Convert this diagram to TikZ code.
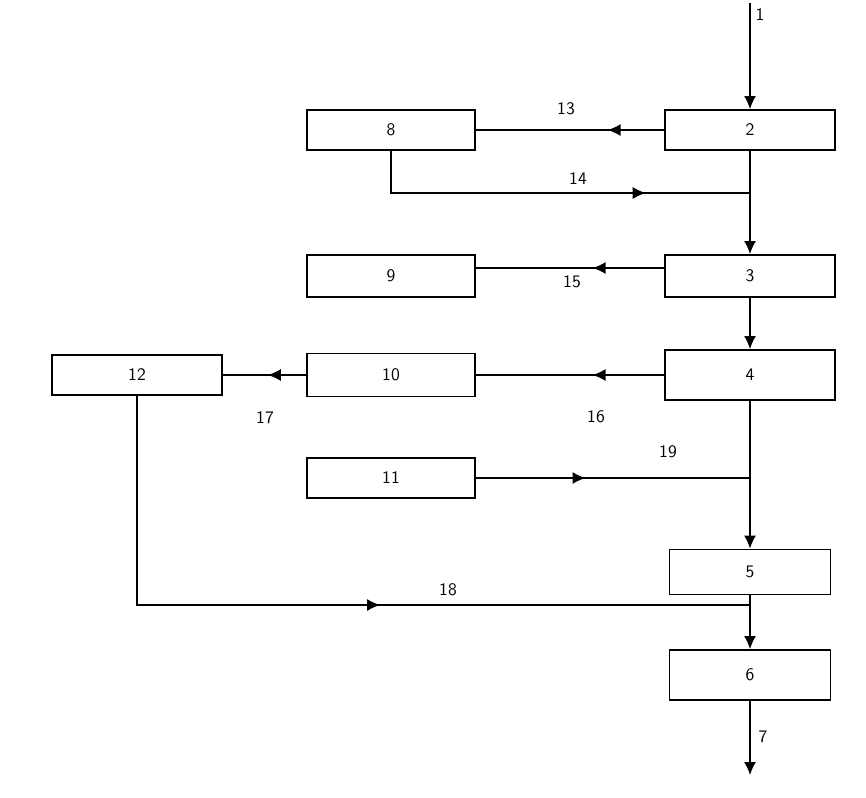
\documentclass[tikz,border=0pt]{standalone}
\usetikzlibrary{arrows.meta,decorations.markings}
\tikzset{
  blk/.style={draw,line width=1.1pt,inner sep=0pt,font=\sffamily},
  flow/.style={line width=0.8pt},
  midarr/.style={flow,postaction={decorate},decoration={markings,mark=at position #1 with {\arrow{>}}}},
  lbl/.style={font=\sffamily}
}

\begin{document}
\begin{tikzpicture}[x=0.02cm,y=-0.02cm,>={Latex[length=2.6mm,width=2.4mm]}]
  \useasboundingbox (0,0) rectangle (866,798);
  % process blocks
  \foreach \n/\x/\y/\w/\h in {2/750/130/3.4cm/0.8cm,3/750/276/3.4cm/0.84cm,4/750/375/3.4cm/1cm,
    5/750/572/3.22cm/0.9cm,6/750/675/3.22cm/1cm,8/391/130/3.36cm/0.8cm,9/391/276/3.36cm/0.84cm,
    10/391/375/3.36cm/0.86cm,11/391/478/3.36cm/0.8cm,12/137/375/3.4cm/0.8cm}
    \node[blk,minimum width=\w,minimum height=\h] (b\n) at (\x,\y) {\n};
  \coordinate (in1) at (750,3);
  \coordinate (out7) at (750,775);
  \coordinate (j14) at (750,193);
  \coordinate (j19) at (750,478);
  \coordinate (j18) at (750,605);
  % main line
  \draw[flow,->] (in1) -- (b2);
  \draw[flow,->] (b2) -- (b3);
  \draw[flow,->] (b3) -- (b4);
  \draw[flow,->] (b4) -- (b5);
  \draw[flow,->] (b5) -- (b6);
  \draw[flow,->] (b6) -- (out7);
  % side streams
  \draw[midarr=0.30] (b2) -- (b8);
  \draw[midarr=0.74] (b8) |- (j14);
  \draw[midarr=0.38] ([yshift=0.16cm]b3.west) -- ([yshift=0.16cm]b9.east);
  \draw[midarr=0.38] (b4) -- (b10);
  \draw[midarr=0.46] (b10) -- (b12);
  \draw[midarr=0.40] (b11) -- (j19);
  \draw[midarr=0.55] (b12) |- (j18);
  % stream numbers
  \node[lbl] (l1) at (760,15) {1};
  \node[lbl] (l13) at (566,109) {13};
  \node[lbl] (l14) at (578,179) {14};
  \node[lbl] (l15) at (572,282) {15};
  \node[lbl] (l16) at (596,417) {16};
  \node[lbl] (l17) at (265,418) {17};
  \node[lbl] (l19) at (668,452) {19};
  \node[lbl] (l18) at (448,590) {18};
  \node[lbl] (l7) at (763,737) {7};
\end{tikzpicture}
\end{document}
